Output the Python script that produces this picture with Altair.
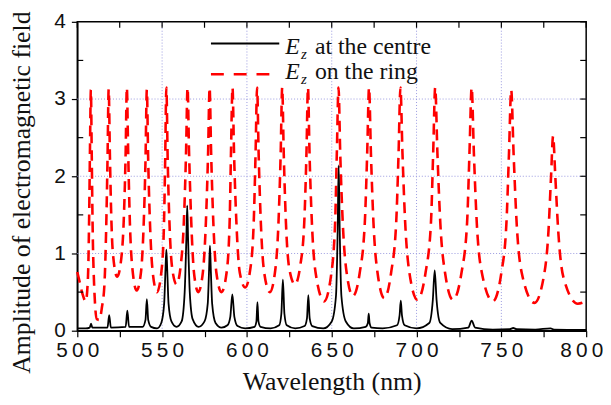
import altair as alt
import pandas as pd

# ---- data ----
red_wl = [500, 501.5, 503, 505, 506.3, 507.0, 507.5, 508.0, 508.5, 509.0, 510.0, 511.5, 513, 514.5, 516, 517, 517.8,
          518.5, 519.2, 520, 521, 523.5, 526, 527.5, 528.5, 529.2, 530, 531, 532.5, 535, 537.5, 539, 540.2,
          541.0, 541.8, 543, 544.5, 547, 549.5, 551, 551.8, 552.5, 553.3, 554.5, 556, 558.5, 561, 562.8, 564.1,
          565.0, 565.9, 567.2, 568.8, 571.3, 574, 575.8, 577.1, 578.0, 578.9, 580.2, 582, 585, 588, 589.8, 590.6,
          591.5, 592.4, 593.8, 595.8, 599, 602, 604, 605.1, 606.0, 606.9, 608.2, 610.2, 613.5, 616.5, 618.6, 619.9,
          620.8, 621.7, 623.0, 625, 628.3, 631.5, 633.8, 635.1, 636.0, 636.9, 638.3, 640.5, 645.5, 649.5, 652, 653.0,
          654.0, 655.0, 656.5, 658.8, 662.5, 666.5, 669.5, 670.9, 672.0, 673.1, 674.6, 677, 681, 685, 688, 689.4,
          690.5, 691.7, 693.3, 695.8, 700.5, 705.3, 708.5, 709.8, 711.0, 712.3, 714, 716.8, 721.5, 726.5, 729.8, 731.2,
          732.5, 733.8, 735.5, 738.5, 745, 750, 753, 754.5, 755.8, 757.2, 759, 762, 769.5, 775, 777.8, 779.3,
          780.5, 781.8, 783.5, 786.5, 795, 800]
red_amp = [0.76, 0.62, 0.48, 0.38, 0.7, 1.5, 2.4, 3.12, 2.3, 1.4, 0.55, 0.15, 0.14, 0.3, 0.6, 1.3, 2.2,
           3.13, 2.3, 1.5, 1.0, 0.7, 0.95, 1.5, 2.3, 3.15, 2.3, 1.4, 0.8, 0.52, 0.75, 1.3, 2.2,
           3.12, 2.2, 1.3, 0.75, 0.5, 0.75, 1.3, 2.2, 3.15, 2.2, 1.3, 0.8, 0.6, 0.85, 1.4, 2.3,
           3.15, 2.3, 1.4, 0.75, 0.5, 0.75, 1.4, 2.3, 3.15, 2.3, 1.4, 0.75, 0.5, 0.75, 1.4, 2.3,
           3.15, 2.3, 1.4, 0.75, 0.56, 0.8, 1.4, 2.3, 3.15, 2.3, 1.4, 0.75, 0.5, 0.75, 1.4, 2.3,
           3.15, 2.3, 1.4, 0.8, 0.6, 0.85, 1.4, 2.3, 3.15, 2.3, 1.4, 0.75, 0.38, 0.7, 1.4, 2.3,
           3.15, 2.3, 1.4, 0.75, 0.45, 0.75, 1.4, 2.3, 3.15, 2.3, 1.4, 0.75, 0.42, 0.75, 1.4, 2.3,
           3.15, 2.3, 1.4, 0.75, 0.4, 0.75, 1.4, 2.3, 3.15, 2.3, 1.4, 0.75, 0.4, 0.75, 1.4, 2.3,
           3.15, 2.3, 1.4, 0.75, 0.38, 0.75, 1.4, 2.3, 3.12, 2.3, 1.4, 0.75, 0.36, 0.7, 1.3, 2.0,
           2.52, 2.0, 1.3, 0.7, 0.35, 0.38]

black_wl = [500, 505, 507.3, 508.1, 508.9, 517.8, 518.8, 519.8, 528.5, 529.5, 530.5, 538.5, 540.2, 541.0, 541.8,
            543.5, 547, 549.5, 551.2, 552.0, 552.5, 553.0, 553.8, 555.5, 558.5, 561.5, 563.3, 564.3, 564.8, 565.3,
            566.3, 568, 571.5, 575, 576.9, 577.7, 578.2, 578.7, 579.5, 581.5, 585, 588.5, 590.2, 591.4, 592.6,
            594.5, 599, 604.5, 605.6, 606.2, 606.8, 608, 614, 619, 620.3, 621.2, 622.1, 623.5, 628.5, 634, 635.4,
            636.2, 637.0, 638.5, 645, 650, 652.5, 653.5, 654.1, 654.7, 655.7, 658.3, 663, 670, 671.3, 671.8, 672.3,
            673.5, 680, 688.5, 690.0, 690.7, 691.4, 693, 700, 707.5, 709.6, 710.7, 711.8, 714, 721, 730.5, 732.5,
            734.5, 745, 755, 757, 759, 770, 779, 781, 800]
black_amp = [0.03, 0.03, 0.04, 0.09, 0.04, 0.04, 0.2, 0.04, 0.05, 0.26, 0.05, 0.05, 0.14, 0.41, 0.14,
             0.05, 0.03, 0.1, 0.35, 0.8, 1.05, 0.8, 0.35, 0.12, 0.05, 0.12, 0.5, 1.2, 1.62, 1.2,
             0.5, 0.15, 0.05, 0.12, 0.35, 0.8, 1.1, 0.8, 0.35, 0.1, 0.04, 0.07, 0.18, 0.47, 0.18,
             0.06, 0.03, 0.05, 0.12, 0.37, 0.12, 0.05, 0.03, 0.07, 0.22, 0.66, 0.22, 0.07, 0.03, 0.06, 0.16,
             0.46, 0.16, 0.06, 0.03, 0.12, 0.45, 1.3, 2.14, 1.3, 0.45, 0.12, 0.03, 0.05, 0.1, 0.22, 0.1,
             0.04, 0.03, 0.07, 0.2, 0.39, 0.2, 0.07, 0.03, 0.1, 0.4, 0.78, 0.4, 0.1, 0.02, 0.04, 0.13,
             0.04, 0.015, 0.02, 0.035, 0.02, 0.015, 0.03, 0.015, 0.01]

x_ticks = [500, 525, 550, 575, 600, 625, 650, 675, 700, 725, 750, 775, 800]
y_major = [0, 1, 2, 3, 4]
y_minor = [0.5, 1.5, 2.5, 3.5]
y_all = [0, 0.5, 1, 1.5, 2, 2.5, 3, 3.5, 4]
x_grid = [550, 600, 650, 700, 750]
y_grid = [1, 2, 3]
legend_text = ["at the centre", "on the ring"]
x_title = "Wavelength (nm)"
y_title = "Amplitude of electromagnetic field"

# ---- chart ----
W, H = 514, 312
SERIF = "'Liberation Serif', 'Times New Roman', Tinos, 'DejaVu Serif', serif"
SANS = "'Liberation Sans', Arial, Arimo, Helvetica, sans-serif"
xs = alt.Scale(domain=[500, 800], nice=False, zero=False)
ys = alt.Scale(domain=[0, 4], nice=False)

red_df = pd.DataFrame({"wl": red_wl, "amp": red_amp})
black_df = pd.DataFrame({"wl": black_wl, "amp": black_amp})
one = pd.DataFrame({"k": [0]})

x_axis = alt.Axis(
    values=x_ticks, grid=False, title=x_title, labelFlush=False, labelOverlap=False,
    labelExpr="datum.value % 50 == 0 ? join(split(datum.label, ''), '\u2009') : ''",
    labelOffset={"condition": {"test": "datum.value == 800", "value": -5}, "value": 0},
    labelFont=SANS, labelFontSize=21, labelColor="#111", labelPadding=3,
    tickSize=6, tickColor="black", tickWidth=1.2, domainColor="black", domainWidth=1.5,
    titleFont=SERIF, titleFontSize=26, titleFontWeight="normal", titleColor="#111",
    titleY=59, titleBaseline="alphabetic",
)
y_axis = alt.Axis(
    values=y_major, grid=False, title=y_title, labelFlush=False, labelOverlap=False,
    labelExpr="format(datum.value, 'd')",
    labelFont=SANS, labelFontSize=21, labelColor="#111", labelPadding=6,
    tickSize=6, tickColor="black", tickWidth=1.2, domainColor="black", domainWidth=1.5,
    titleFont=SERIF, titleFontSize=26, titleFontWeight="normal", titleColor="#111",
    titleAngle=-90, titleX=-48, titleY=172, titleBaseline="alphabetic", titleAlign="center",
)

grid_col = "#9a9ae0"
gx = alt.Chart(pd.DataFrame({"v": x_grid})).mark_rule(color=grid_col, strokeDash=[1, 2], strokeWidth=1).encode(
    x=alt.X("v:Q", scale=xs, axis=x_axis))
gy = alt.Chart(pd.DataFrame({"v": y_grid})).mark_rule(color=grid_col, strokeDash=[1, 2], strokeWidth=1).encode(
    y=alt.Y("v:Q", scale=ys, axis=y_axis))

red = alt.Chart(red_df).mark_line(color="#ff0000", strokeWidth=2.6, strokeDash=[11, 7], interpolate="monotone").encode(
    x=alt.X("wl:Q", scale=xs), y=alt.Y("amp:Q", scale=ys))
black = alt.Chart(black_df).mark_line(color="black", strokeWidth=1.8, interpolate="monotone").encode(
    x=alt.X("wl:Q", scale=xs), y=alt.Y("amp:Q", scale=ys))

top_ticks = alt.Chart(pd.DataFrame({"v": x_ticks})).mark_rule(color="black", strokeWidth=1.2).encode(
    x=alt.X("v:Q", scale=xs), y=alt.value(0), y2=alt.value(6))
right_ticks = alt.Chart(pd.DataFrame({"v": y_all})).mark_rule(color="black", strokeWidth=1.2).encode(
    y=alt.Y("v:Q", scale=ys), x=alt.value(W - 6), x2=alt.value(W))
left_minor = alt.Chart(pd.DataFrame({"v": y_minor})).mark_rule(color="black", strokeWidth=1.2).encode(
    y=alt.Y("v:Q", scale=ys), x=alt.value(0), x2=alt.value(6))

leg_black = alt.Chart(one).mark_rule(color="black", strokeWidth=2).encode(
    x=alt.value(135), x2=alt.value(204), y=alt.value(22))
leg_red = alt.Chart(one).mark_rule(color="#ff0000", strokeWidth=2.6, strokeDash=[13, 10]).encode(
    x=alt.value(135), x2=alt.value(204), y=alt.value(53))

def legend_entry(ybase, label):
    e = alt.Chart(one).mark_text(font=SERIF, fontSize=24, fontStyle="italic", align="left",
                                 baseline="alphabetic", color="#111").encode(
        x=alt.value(210), y=alt.value(ybase), text=alt.value("E"))
    z = alt.Chart(one).mark_text(font=SERIF, fontSize=15, fontStyle="italic", align="left",
                                 baseline="alphabetic", color="#111").encode(
        x=alt.value(226), y=alt.value(ybase + 5), text=alt.value("z"))
    t = alt.Chart(one).mark_text(font=SERIF, fontSize=24, align="left",
                                 baseline="alphabetic", color="#111").encode(
        x=alt.value(240), y=alt.value(ybase), text=alt.value(label))
    return e + z + t

chart = alt.layer(
    gx, gy, red, black, top_ticks, right_ticks, left_minor, leg_black, leg_red,
    legend_entry(33, legend_text[0]), legend_entry(58, legend_text[1]),
).properties(
    width=W, height=H,
    autosize=alt.AutoSizeParams(type="none"),
    padding={"left": 70, "top": 12, "right": 17, "bottom": 65},
    background="white",
).configure_view(stroke="black", strokeWidth=1.5)

chart.save("out.html", embed_options={"renderer": "svg", "actions": False})
